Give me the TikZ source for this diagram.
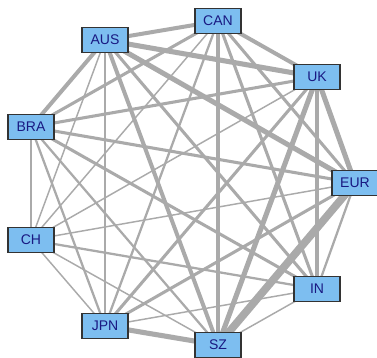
\documentclass[tikz,border=0pt]{standalone}
\usepackage{fontspec}
\setmainfont{Liberation Sans}
\usetikzlibrary{backgrounds}
\definecolor{boxblue}{RGB}{125,190,240}
\definecolor{labelblue}{RGB}{25,25,130}
\definecolor{edgegray}{RGB}{170,170,170}
\begin{document}
\begin{tikzpicture}[x=0.75pt,y=-0.75pt,
	country/.style={draw=black!80,line width=0.8pt,fill=boxblue,text=labelblue,
		minimum width=34.5pt,minimum height=18.75pt,inner sep=0pt,font=\fontsize{10.5}{12}\selectfont},
	l1/.style={draw=edgegray,line width=1.1pt},
	l2/.style={draw=edgegray,line width=1.7pt},
	l3/.style={draw=edgegray,line width=2.3pt},
	l4/.style={draw=edgegray,line width=3pt},
	l5/.style={draw=edgegray,line width=3.8pt},
	l6/.style={draw=edgegray,line width=5.8pt}]
		\useasboundingbox (0,0) rectangle (377,357);
		\node[country] (can) at (218,21) {CAN};
		\node[country] (aus) at (105,40) {AUS};
		\node[country] (uk) at (317,77) {UK};
		\node[country] (bra) at (31,127) {BRA};
		\node[country] (eur) at (355,183) {EUR};
		\node[country] (ch) at (31,240) {CH};
		\node[country] (in) at (317,289) {IN};
		\node[country] (jpn) at (105,326) {JPN};
		\node[country] (sz) at (218,345) {SZ};
		\begin{scope}[on background layer]
		% AUS
		\draw[l4] (aus.center)--(can.center);
		\draw[l5] (aus.center)--(uk.center);
		\draw[l5] (aus.center)--(eur.center);
		\draw[l4] (aus.center)--(bra.center);
		\draw[l1] (aus.center)--(ch.center);
		\draw[l1] (aus.center)--(jpn.center);
		\draw[l4] (aus.center)--(sz.center);
		\draw[l3] (aus.center)--(in.center);
		% CAN
		\draw[l4] (can.center)--(uk.center);
		\draw[l3] (can.center)--(eur.center);
		\draw[l3] (can.center)--(bra.center);
		\draw[l4] (can.center)--(sz.center);
		\draw[l3] (can.center)--(in.center);
		\draw[l2] (can.center)--(jpn.center);
		\draw[l1] (can.center)--(ch.center);
		% UK
		\draw[l5] (uk.center)--(eur.center);
		\draw[l5] (uk.center)--(sz.center);
		\draw[l3] (uk.center)--(in.center);
		\draw[l3] (uk.center)--(bra.center);
		\draw[l1] (uk.center)--(ch.center);
		\draw[l3] (uk.center)--(jpn.center);
		% EUR
		\draw[l6] (eur.center)--(sz.center);
		\draw[l2] (eur.center)--(in.center);
		\draw[l3] (eur.center)--(jpn.center);
		\draw[l1] (eur.center)--(ch.center);
		\draw[l3] (eur.center)--(bra.center);
		% BRA
		\draw[l1] (bra.center)--(ch.center);
		\draw[l2] (bra.center)--(jpn.center);
		\draw[l3] (bra.center)--(in.center);
		\draw[l2] (bra.center)--(sz.center);
		% CH
		\draw[l1] (ch.center)--(jpn.center);
		\draw[l2] (ch.center)--(in.center);
		\draw[l1] (ch.center)--(sz.center);
		% JPN, IN
		\draw[l5] (jpn.center)--(sz.center);
		\draw[l1] (jpn.center)--(in.center);
		\draw[l1] (in.center)--(sz.center);
		\end{scope}
\end{tikzpicture}
\end{document}
